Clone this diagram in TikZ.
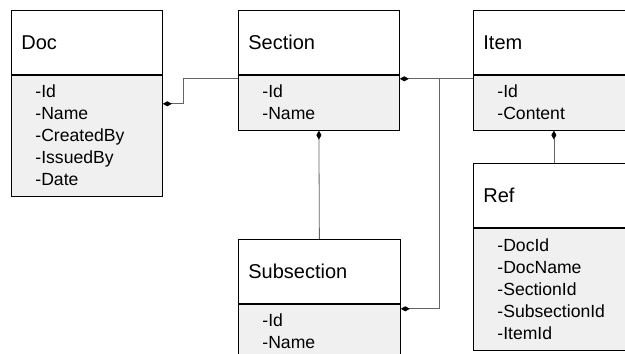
\documentclass[tikz,border=0pt]{standalone}
\usepackage{fontspec}
\setmainfont{Liberation Sans}
\usetikzlibrary{positioning,arrows.meta}
\definecolor{attrgray}{RGB}{240,240,240}
\definecolor{linkgray}{RGB}{100,100,100}
\tikzset{
	cls/.style={draw, line width=0.8pt, anchor=north west, minimum height=64pt,
		inner xsep=10pt, align=left, text width=#1, font=\fontsize{20}{24}\selectfont},
	attrs/.style={draw, line width=0.8pt, fill=attrgray, inner xsep=24pt, inner ysep=0pt,
		align=left, text width=#1, font=\fontsize{17.6}{22}\selectfont},
	own/.style={draw=linkgray, line width=0.8pt, -{Diamond[length=9pt,width=5pt,color=black]}},
}
\begin{document}
\begin{tikzpicture}[x=1pt,y=-1pt]
			\useasboundingbox (0,0) rectangle (625,354);
			% class headers
			\node[cls=131pt] (docT) at (11,10) {Doc};
			\node[cls=141pt] (secT) at (238,10) {Section};
			\node[cls=141pt] (itemT) at (473,10) {Item};
			\node[cls=141pt] (refT) at (473,163) {Ref};
			\node[cls=142pt] (subT) at (238,239) {Subsection};
			% attribute compartments
			\node[attrs=103pt, minimum height=121pt, below=0pt of docT] (docA) {-Id\\-Name\\-CreatedBy\\-IssuedBy\\-Date};
			\node[attrs=113pt, minimum height=55pt, below=0pt of secT] (secA) {-Id\\-Name};
			\node[attrs=113pt, minimum height=55pt, below=0pt of itemT] (itemA) {-Id\\-Content};
			\node[attrs=113pt, minimum height=122pt, below=0pt of refT] (refA) {-DocId\\-DocName\\-SectionId\\-SubsectionId\\-ItemId};
			\node[attrs=114pt, minimum height=55pt, below=0pt of subT] (subA) {-Id\\-Name};
			% links, diamond at the owning side
			\coordinate (jn) at ([xshift=-34pt,yshift=-4pt]itemT.south west);
			\draw[own] ([yshift=-4pt]secT.south west) -- ++(-55,0) |- ([yshift=-29pt]docA.north east);
			\draw[own] ([yshift=-4pt]itemT.south west) -- ([yshift=-4pt]secT.south east);
			\draw[own] (jn) |- ([yshift=-5pt]subT.south east);
			\draw[own] (subT.north) -- (secA.south);
			\draw[own] (refT.north) -- (itemA.south);
		\end{tikzpicture}
\end{document}
